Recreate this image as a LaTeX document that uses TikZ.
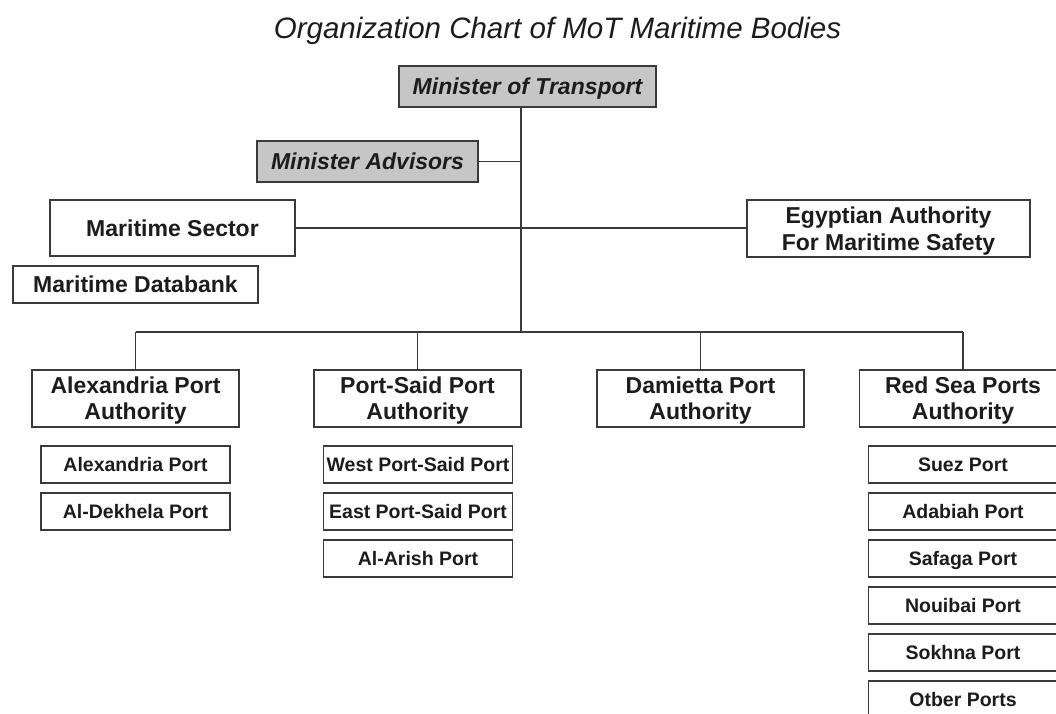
\documentclass[tikz,border=0pt]{standalone}
\usepackage{fontspec}
\setmainfont{Liberation Sans}
\usepackage{xcolor}
\usepackage{tikz}
\usetikzlibrary{calc}

\definecolor{linegray}{HTML}{3A3A3A}
\definecolor{fillgray}{HTML}{C6C6C6}
\definecolor{inkgray}{HTML}{1C1C1C}

\tikzset{
	orgbox/.style = {draw = linegray, line width = 1.5pt, rectangle, inner sep = 0pt, align = center, text = inkgray, text height = 16.5pt, text depth = 0pt, font = \fontsize{23}{26}\selectfont\bfseries},
	headbox/.style = {orgbox, fill = fillgray, minimum height = 41pt, font = \fontsize{23}{26}\selectfont\bfseries\itshape},
	authbox/.style = {orgbox, minimum width = 207pt, minimum height = 57pt, text height = 42.5pt},
	portbox/.style = {orgbox, minimum width = 189pt, minimum height = 37pt, text height = 14pt, font = \fontsize{19.5}{22}\selectfont\bfseries},
	link/.style = {draw = linegray, line width = 1.5pt}
}

\begin{document}
\begin{tikzpicture}[x = 1pt, y = -1pt]
	\def\spinex{521};
	\def\bary{332};
	\def\subtop{464.5};
	\def\subgap{47};
	
	\fill [white] (0,0) rectangle (1056,713);
	\useasboundingbox (0,0) rectangle (1056,713);
	
	\node [anchor = base, text = inkgray, font = \fontsize{29.5}{32}\selectfont\itshape] (title) at (557.5,38) {Organization Chart of MoT Maritime Bodies};
	
	\node [headbox, minimum width = 257pt] (minister) at (527.5,86.5) {Minister of Transport};
	\node [headbox, minimum width = 221pt] (advisors) at (367.5,161.5) {Minister Advisors};
	
	\node [orgbox, minimum width = 245pt, minimum height = 56pt] (sector) at (172.5,228) {Maritime Sector};
	\node [orgbox, minimum width = 283pt, minimum height = 57pt, text height = 43.5pt, font = \fontsize{23}{27}\selectfont\bfseries] (safety) at (888.5,228.5) {Egyptian Authority\\For Maritime Safety};
	\node [orgbox, minimum width = 245pt, minimum height = 37pt] (databank) at (135.5,284.5) {Maritime Databank};
	
	\node [authbox] (alex) at (135.5,398.5) {Alexandria Port\\Authority};
	\node [authbox] (portsaid) at (417.5,398.5) {Port-Said Port\\Authority};
	\node [authbox] (damietta) at (700.5,398.5) {Damietta Port\\Authority};
	\node [authbox] (redsea) at (963,398.5) {Red Sea Ports\\Authority};
	
	\foreach \port [count = \i] in {Alexandria Port, Al-Dekhela Port}
		\node [portbox] (alexport\i) at (135.5,{\subtop + \subgap*(\i - 1)}) {\port};
	\foreach \port [count = \i] in {West Port-Said Port, East Port-Said Port, Al-Arish Port}
		\node [portbox] (psport\i) at (418,{\subtop + \subgap*(\i - 1)}) {\port};
	\foreach \port [count = \i] in {Suez Port, Adabiah Port, Safaga Port, Nouibai Port, Sokhna Port, Otber Ports}
		\node [portbox] (redport\i) at (963,{\subtop + \subgap*(\i - 1)}) {\port};
	
	\coordinate (spine) at (\spinex,\bary);
	\draw [link] (minister.south -| spine) -- (spine);
	\draw [link] (advisors.east) -- (advisors.east -| spine);
	\draw [link] (sector.east) -- (sector.east -| safety.west);
	\draw [link] (alex.north |- spine) -- (redsea.north |- spine);
	\foreach \auth in {alex, portsaid, damietta, redsea}
		\draw [link] (\auth.north) -- (\auth.north |- spine);
\end{tikzpicture}
\end{document}
